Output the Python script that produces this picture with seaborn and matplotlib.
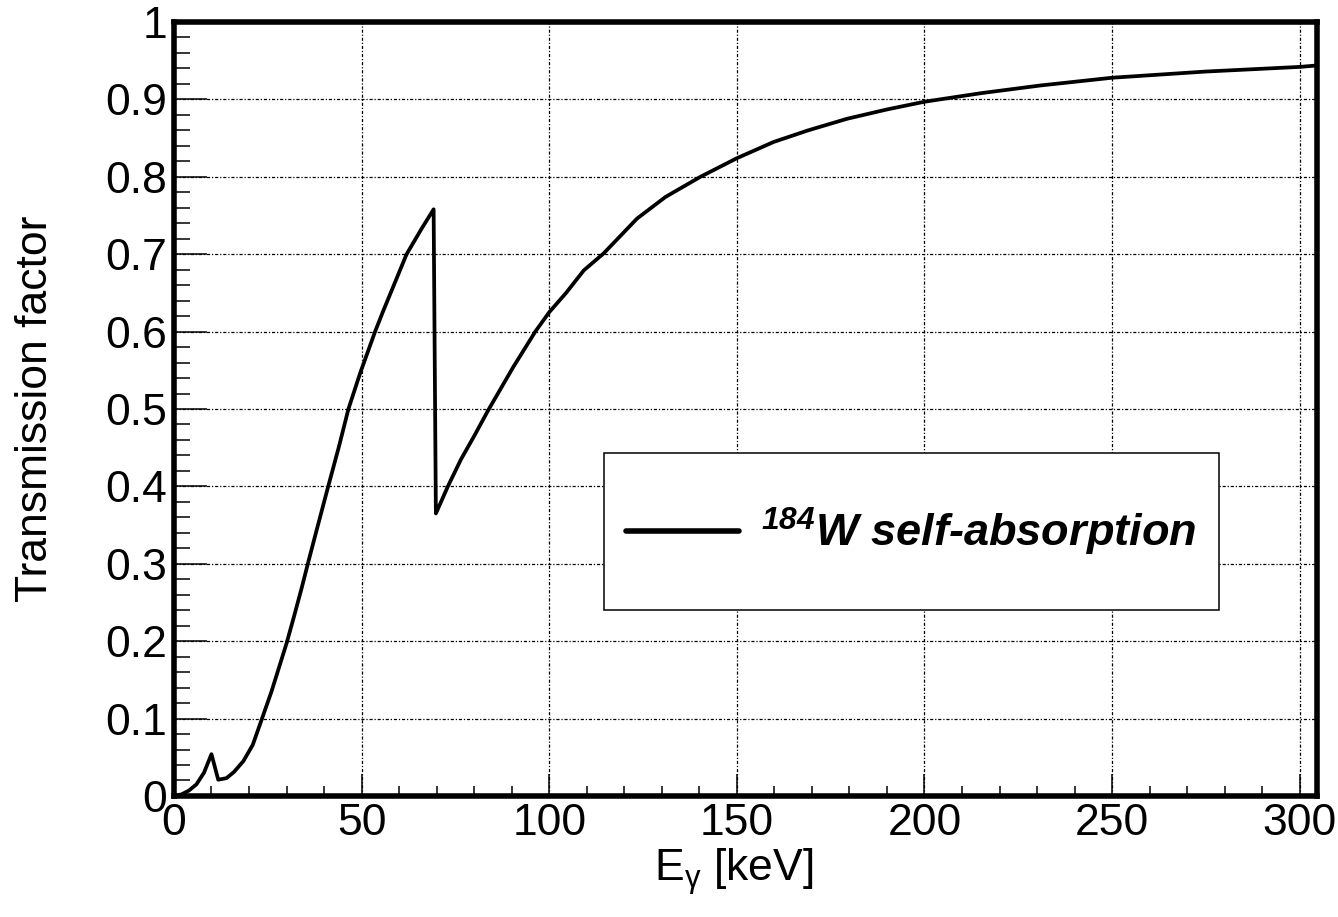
import matplotlib
matplotlib.use("Agg")
import matplotlib.pyplot as plt
from matplotlib.patches import Rectangle
from matplotlib.ticker import MultipleLocator, FuncFormatter
import seaborn as sns
import pandas as pd

# photon energy [keV] and transmission factor
energy = [0, 2, 4, 6, 8, 10.0, 11.8, 14, 16, 18.5, 21, 23.4, 26, 30, 32,
          34, 36, 38, 41, 44, 46.5, 49.6, 53.6, 55.8, 62.0, 66.0, 69.2,
          69.8, 73, 76.5, 80, 83.7, 90.4, 96.3, 100, 104.5, 109.2, 114.5,
          123.4, 131, 140.3, 150, 159.8, 169, 179.4, 190, 200, 215, 230.9,
          250, 275, 300, 305]
transmission = [0, 0.002, 0.007, 0.015, 0.030, 0.054, 0.021, 0.023, 0.031,
                0.045, 0.066, 0.099, 0.135, 0.197, 0.232, 0.268, 0.306,
                0.343, 0.398, 0.452, 0.500, 0.546, 0.600, 0.627, 0.700, 0.733,
                0.758, 0.365, 0.400, 0.435, 0.465, 0.498, 0.554, 0.600, 0.625,
                0.650, 0.679, 0.701, 0.746, 0.774, 0.800, 0.824, 0.845, 0.860,
                0.875, 0.887, 0.897, 0.908, 0.918, 0.928, 0.936, 0.942, 0.944]
series_label = r"$^{184}$W self-absorption"

df = pd.DataFrame({"E": energy, "T": transmission})

sns.set_style("white")
plt.rcParams["font.family"] = ["Liberation Sans", "DejaVu Sans"]
plt.rcParams["mathtext.default"] = "regular"
plt.rcParams["text.color"] = "black"
plt.rcParams["axes.labelcolor"] = "black"

fig = plt.figure(figsize=(13.38, 9.17), dpi=100)
ax = fig.add_axes([0.1300, 0.1320, 0.8543, 0.8440])

sns.lineplot(data=df, x="E", y="T", ax=ax, color="black", linewidth=2.7,
             estimator=None, sort=False, label=series_label, zorder=3)

ax.set_xlim(0, 304.6)
ax.set_ylim(0, 1)

ax.xaxis.set_major_locator(MultipleLocator(50))
ax.xaxis.set_minor_locator(MultipleLocator(10))
ax.yaxis.set_major_locator(MultipleLocator(0.1))
ax.yaxis.set_minor_locator(MultipleLocator(0.02))
ax.yaxis.set_major_formatter(FuncFormatter(lambda v, p: f"{v:g}"))
ax.xaxis.set_major_formatter(FuncFormatter(lambda v, p: f"{v:g}"))

ax.tick_params(axis="both", which="both", direction="in", colors="black",
               width=1.1, labelsize=32, bottom=True, left=True,
               top=False, right=False)
ax.tick_params(axis="x", which="major", length=15.8, pad=5)
ax.tick_params(axis="x", which="minor", length=7.2)
ax.tick_params(axis="y", which="major", length=23.5, pad=5)
ax.tick_params(axis="y", which="minor", length=11.5)

ax.grid(True, which="major", color="black", linewidth=0.9,
        linestyle=(0, (2.5, 1.5, 1, 1.5)))
for sp in ax.spines.values():
    sp.set_visible(True)
    sp.set_color("black")
    sp.set_linewidth(4)

ax.set_xlabel(r"E$_{γ}$ [keV]", fontsize=32, color="black")
ax.set_ylabel("Transmission factor", fontsize=32, color="black")
ax.xaxis.set_label_coords(0.4895, -0.065)
ax.yaxis.set_label_coords(-0.103, 0.5)

# legend box
box = Rectangle((0.3762, 0.2403), 0.5381, 0.2029, transform=ax.transAxes,
                facecolor="white", edgecolor="black", linewidth=1.1, zorder=4)
ax.add_patch(box)
leg = ax.legend(loc="center left", bbox_to_anchor=(0.3955, 0.341),
                frameon=False, borderpad=0, borderaxespad=0,
                handlelength=2.5, handletextpad=0.5, labelcolor="black",
                prop={"size": 32.5, "weight": "bold", "style": "italic"})
leg.set_zorder(5)
leg.get_lines()[0].set_linewidth(4.0)

fig.savefig("out.png", dpi=100)
